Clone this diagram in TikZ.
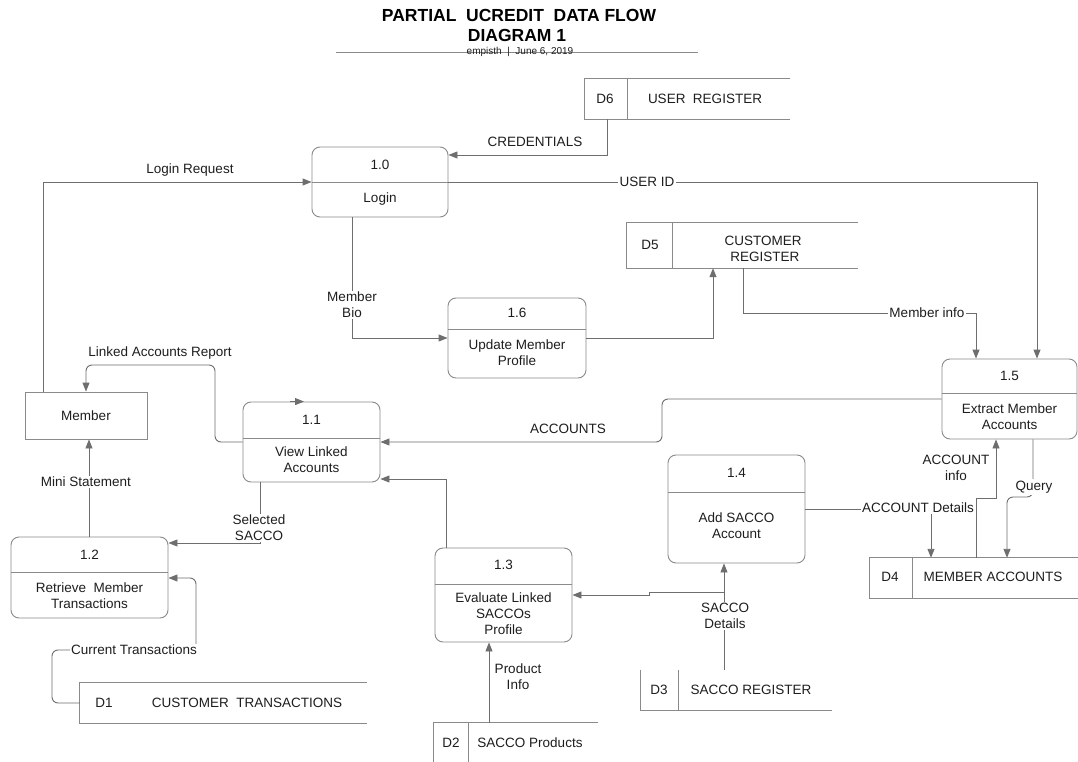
\documentclass[tikz,border=0pt]{standalone}
\usepackage{fontspec}
\setmainfont{Liberation Sans}
\usetikzlibrary{arrows.meta}
\definecolor{ln}{HTML}{6E6E6E}
\definecolor{bx}{HTML}{8A8A8A}
\definecolor{tx}{HTML}{1E1E1E}
\tikzset{
  every node/.style={text=tx, font=\fontsize{13.5}{16}\selectfont, inner sep=1pt},
  title/.style={text=black, font=\bfseries\fontsize{17.5}{19}\selectfont},
  byline/.style={text=tx, font=\fontsize{10}{12}\selectfont},
  rule/.style={draw=bx, line width=0.8pt},
  proc/.style={draw=bx, line width=0.9pt, rounded corners=8pt, inner sep=0pt},
  ent/.style={draw=bx, line width=0.9pt, inner sep=0pt},
  store/.style={draw=none, inner sep=0pt},
  sline/.style={draw=bx, line width=0.9pt},
  div/.style={draw=bx, line width=0.9pt},
  flow/.style={draw=ln, line width=0.9pt, -{Triangle[length=9pt,width=7pt]}},
  flowr/.style={flow, rounded corners=6pt},
  lbl/.style={},
  lblw/.style={fill=white, inner sep=1.5pt},
}
\begin{document}
\begin{tikzpicture}[x=1pt,y=-1pt]
\useasboundingbox[fill=white] (0,0) rectangle (1078,762);

% heading
\node[title] (title1) at (519,15) {PARTIAL\ \ UCREDIT\ \ DATA FLOW};
\node[title] (title2) at (517,35) {DIAGRAM 1};
\draw[rule] (336,52) -- (698,52);
\node[byline] (byline) at (520,52) {empisth\ \ |\ \ June 6, 2019};

% processes
\node[proc, minimum width=136pt, minimum height=70pt] (p10) at (380,182) {};
\draw[div] (p10.west) -- (p10.east);
\node (p10n) at (380,165) {1.0};
\node (p10t) at (380,199) {Login};

\node[proc, minimum width=138pt, minimum height=80pt] (p16) at (517,338) {};
\draw[div] (p16.west |- 0,329) -- (p16.east |- 0,329);
\node (p16n) at (517,313) {1.6};
\node[align=center] (p16t) at (517,353) {Update Member\\Profile};

\node[proc, minimum width=137pt, minimum height=80pt] (p11) at (311.5,442) {};
\draw[div] (p11.west |- 0,438) -- (p11.east |- 0,438);
\node (p11n) at (311.5,420) {1.1};
\node[align=center] (p11t) at (311.5,460) {View Linked\\Accounts};

\node[proc, minimum width=157pt, minimum height=81pt] (p12) at (89.5,577.5) {};
\draw[div] (p12.west |- 0,572) -- (p12.east |- 0,572);
\node (p12n) at (89.5,555) {1.2};
\node[align=center] (p12t) at (89.5,596) {Retrieve\ \ Member\\Transactions};

\node[proc, minimum width=137pt, minimum height=94pt] (p13) at (503.5,595) {};
\draw[div] (p13.west |- 0,584) -- (p13.east |- 0,584);
\node (p13n) at (503.5,565) {1.3};
\node[align=center] (p13t) at (503.5,614) {Evaluate Linked\\SACCOs\\Profile};

\node[proc, minimum width=137pt, minimum height=108pt] (p14) at (736.5,509) {};
\draw[div] (p14.west |- 0,492) -- (p14.east |- 0,492);
\node (p14n) at (736.5,473) {1.4};
\node[align=center] (p14t) at (736.5,526) {Add SACCO\\Account};

\node[proc, minimum width=135pt, minimum height=80pt] (p15) at (1009.5,399) {};
\draw[div] (p15.west |- 0,393) -- (p15.east |- 0,393);
\node (p15n) at (1009.5,376) {1.5};
\node[align=center] (p15t) at (1009.5,417) {Extract Member\\Accounts};

% external entity
\node[ent, minimum width=122pt, minimum height=47pt] (member) at (86,415.5) {Member};

% data stores
\node[store, minimum width=205pt, minimum height=40pt] (d6) at (687.5,99) {};
\draw[sline] (d6.north east) -- (d6.north west) -- (d6.south west) -- (d6.south east);
\draw[sline] (627,0 |- d6.north) -- (627,0 |- d6.south);
\node (d6i) at (605,99) {D6};
\node (d6t) at (705,99) {USER\ \ REGISTER};

\node[store, minimum width=231pt, minimum height=45pt] (d5) at (742.5,245.5) {};
\draw[sline] (d5.north east) -- (d5.north west) -- (d5.south west) -- (d5.south east);
\draw[sline] (672,0 |- d5.north) -- (672,0 |- d5.south);
\node (d5i) at (650,245) {D5};
\node[align=center] (d5t) at (763,249) {CUSTOMER\\\ REGISTER};

\node[store, minimum width=287pt, minimum height=40pt] (d1) at (223.5,703) {};
\draw[sline] (d1.north east) -- (d1.north west) -- (d1.south west) -- (d1.south east);
\node (d1i) at (104,703) {D1};
\node (d1t) at (247,703) {CUSTOMER\ \ TRANSACTIONS};

\node[store, minimum width=164pt, minimum height=39pt] (d2) at (516,742.5) {};
\draw[sline] (d2.north east) -- (d2.north west) -- (d2.south west);
\draw[sline] (468,0 |- d2.north) -- (468,0 |- d2.south);
\node (d2i) at (451,743) {D2};
\node (d2t) at (530,743) {SACCO Products};

\node[store, minimum width=191pt, minimum height=40pt] (d3) at (736.5,690) {};
\draw[sline] (d3.north west) -- (d3.south west) -- (d3.south east);
\draw[sline] (678,0 |- d3.north) -- (678,0 |- d3.south);
\node (d3i) at (659,690) {D3};
\node (d3t) at (751,690) {SACCO REGISTER};

\node[store, minimum width=208pt, minimum height=40pt] (d4) at (974,578) {};
\draw[sline] (d4.north east) -- (d4.north west) -- (d4.south west) -- (d4.south east);
\draw[sline] (912,0 |- d4.north) -- (912,0 |- d4.south);
\node (d4i) at (890,577) {D4};
\node (d4t) at (993,577) {MEMBER ACCOUNTS};

% data flows
\draw[flow] (607,0 |- d6.south) -- (607,155) -- (p10.east |- 0,155);
\node[lbl] (lcred) at (535,142) {CREDENTIALS};

\draw[flow] (p10.east) -- (1037,0 |- p10.east) -- (1037,0 |- p15.north);
\node[lblw] (luid) at (647,182) {USER ID};

\draw[flow] (43,0 |- member.north) -- (43,0 |- p10.west) -- (p10.west);
\node[lbl] (llogin) at (190,170) {Login Request};

\draw[flow] (352,0 |- p10.south) -- (352,0 |- p16.west) -- (p16.west);
\node[lblw, align=center] (lbio) at (352,305) {Member\\Bio};

\draw[flow] (p16.east) -- (713,0 |- p16.east) -- (713,0 |- d5.south);

\draw[flow] (743,0 |- d5.south) -- (743,313) -- (976,313) -- (976,0 |- p15.north);
\node[lblw] (lminfo) at (927,313) {Member info};

\draw[flowr] (p15.west) -- (662,0 |- p15.west) -- (662,0 |- p11.east) -- (p11.east);
\node[lbl] (laccts) at (568,429) {ACCOUNTS};

\draw[flowr] (p11.west) -- (215,0 |- p11.west) -- (215,365) -- (86,365) -- (member.north);
\node[lbl] (llar) at (160,353) {Linked Accounts Report};
\draw[flow] (290,0 |- p11.north) -- (304,0 |- p11.north);

\draw[flow] (89,0 |- p12.north) -- (89,0 |- member.south);
\node[lblw] (lmini) at (86,482) {Mini Statement};

\draw[flow] (260,0 |- p11.south) -- (260,543) -- (p12.east |- 0,543);
\node[lblw, align=center] (lsel) at (259,528) {Selected\\SACCO};

\draw[flowr] (d1.west) -- (52,0 |- d1.west) -- (52,650) -- (196,650) -- (196,578) -- (p12.east |- 0,578);
\node[lblw] (lcur) at (134,650) {Current Transactions};

\draw[flow] (446,0 |- p13.north) -- (446,479) -- (p11.east |- 0,479);

\draw[flow] (724,0 |- d3.north) -- (724,0 |- p14.south);
\coordinate (sdj) at (724,592);
\draw[flow] (sdj) -- (649,592) -- (649,0 |- p13.east) -- (p13.east);
\node[lblw, align=center] (lsd) at (725,616) {SACCO\\Details};

\draw[flow] (489,0 |- d2.north) -- (489,0 |- p13.south);
\node[lbl, align=center] (lprod) at (518,677) {Product\\Info};

\draw[flow] (p14.east) -- (931,0 |- p14.east) -- (931,0 |- d4.north);
\node[lblw] (lad) at (918,508) {ACCOUNT Details};

\draw[flow] (976,0 |- d4.north) -- (976,498) -- (996,498) -- (996,0 |- p15.south);
\node[lbl, align=center] (lai) at (956,468) {ACCOUNT\\info};

\draw[flowr] (1033,0 |- p15.south) -- (1033,497) -- (1007,497) -- (1007,0 |- d4.north);
\node[lblw] (lq) at (1034,487) {Query};
\end{tikzpicture}
\end{document}
